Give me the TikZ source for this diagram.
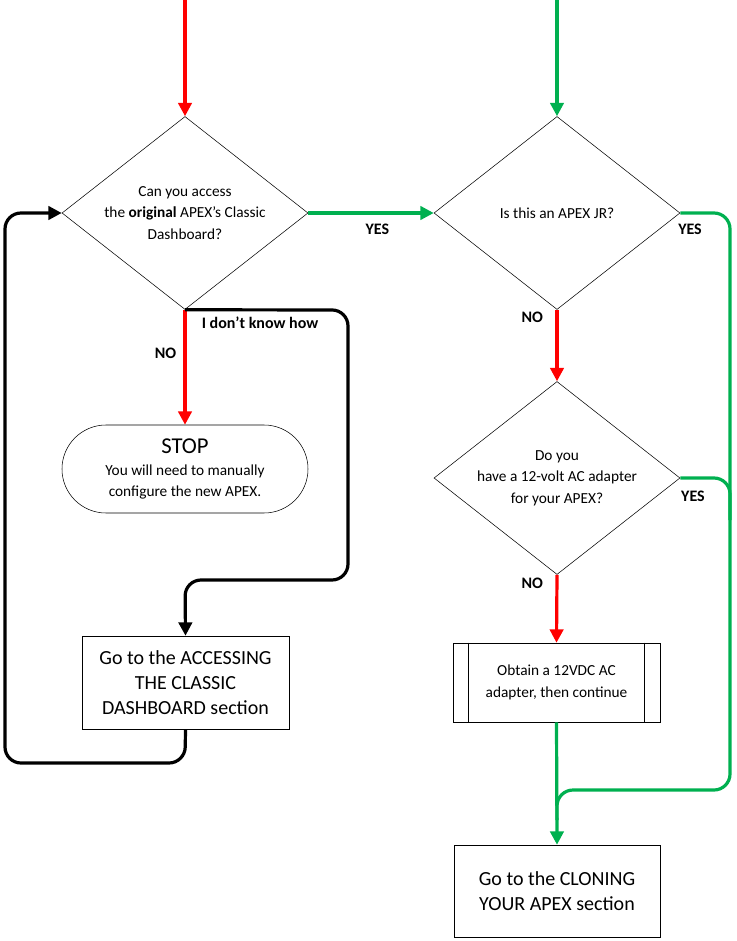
\documentclass[tikz,border=0pt]{standalone}
\usepackage{fontspec}
\setmainfont{Carlito}
\usetikzlibrary{shapes.geometric,arrows.meta,calc}
\definecolor{flred}{HTML}{FF0000}
\definecolor{flgreen}{HTML}{00B050}
\tikzset{
  dia/.style={diamond,draw,inner sep=0,minimum width=246*0.75pt,minimum height=193*0.75pt},
  boxnode/.style={rectangle,draw,align=center,font=\fontsize{15}{18.5}\selectfont},
  diatext/.style={align=center,font=\fontsize{11.5}{16}\selectfont},
  lab/.style={font=\bfseries\fontsize{12}{14}\selectfont},
  flow/.style={line width=2.4pt,rounded corners=12pt},
  tip/.style={-{Triangle[length=10pt,width=10pt]}}
}
\begin{document}
\begin{tikzpicture}[x=0.75pt,y=-0.75pt]
\useasboundingbox (0,0) rectangle (737,941);

\coordinate (topL) at (185,0);
\coordinate (topR) at (557,0);

\node[dia] (access) at (185,213) {};
\node[diatext] at (access) {Can you access\\the \textbf{original} APEX's Classic\\Dashboard?};

\node[dia] (jr) at (557,213) {};
\node[diatext] at (jr) {Is this an APEX JR?};

\node[dia] (adapter) at (557,478) {};
\node[diatext] at (adapter) {Do you\\have a 12-volt AC adapter\\for your APEX?};

\node[draw,rounded corners=33pt,minimum width=246*0.75pt,minimum height=88*0.75pt] (stop) at (185,469) {};
\node[diatext] at (stop) {{\fontsize{17}{20}\selectfont STOP}\\You will need to manually\\configure the new APEX.};

\node[boxnode,minimum width=207*0.75pt,minimum height=93*0.75pt] (classic) at (185.5,682.5) {Go to the ACCESSING\\THE CLASSIC\\DASHBOARD section};

\node[draw,minimum width=207*0.75pt,minimum height=79*0.75pt,diatext] (obtain) at (556.5,682.5) {Obtain a 12VDC AC\\adapter, then continue};
\draw ($(obtain.north west)+(16,0)$) -- ($(obtain.south west)+(16,0)$);
\draw ($(obtain.north east)+(-16,0)$) -- ($(obtain.south east)+(-16,0)$);

\node[boxnode,minimum width=206*0.75pt,minimum height=92*0.75pt] (clone) at (557,891) {Go to the CLONING\\YOUR APEX section};

% incoming
\draw[flow,flred,tip] (topL) -- (access.north);
\draw[flow,flgreen,tip] (topR) -- (jr.north);

% access decision
\draw[flow,flgreen,tip] (access.east) -- node[lab,black,below=4pt,pos=0.55]{YES} (jr.west);
\draw[flow,flred,tip] (access.south) -- node[lab,black,left=2pt,pos=0.38]{NO} (stop.north);
\draw[flow,black,tip] (access.south) -- (348,310) -- (348,580) -- (185,580) -- (classic.north);
\node[lab] at (260,323) {I don't know how};
\draw[flow,black,tip] (classic.south) -- (185,763) -- (5,763) -- (5,213) -- (access.west);

% jr decision
\draw[flow,flred,tip] (jr.south) -- node[lab,black,left=6pt,pos=0.1]{NO} (adapter.north);
\draw[flow,flgreen] (jr.east) -- (730,213) -- (730,790) -- (557,790) -- (557,820);
\node[lab] at (690,229) {YES};

% adapter decision
\draw[flow,flred,tip] (adapter.south) -- node[lab,black,left=6pt,pos=0.12]{NO} (obtain.north);
\draw[flow,flgreen] (adapter.east) -- (730,478) -- (730,520);
\node[lab] at (693,496) {YES};
\draw[flow,flgreen,tip] (obtain.south) -- (clone.north);
\end{tikzpicture}
\end{document}
